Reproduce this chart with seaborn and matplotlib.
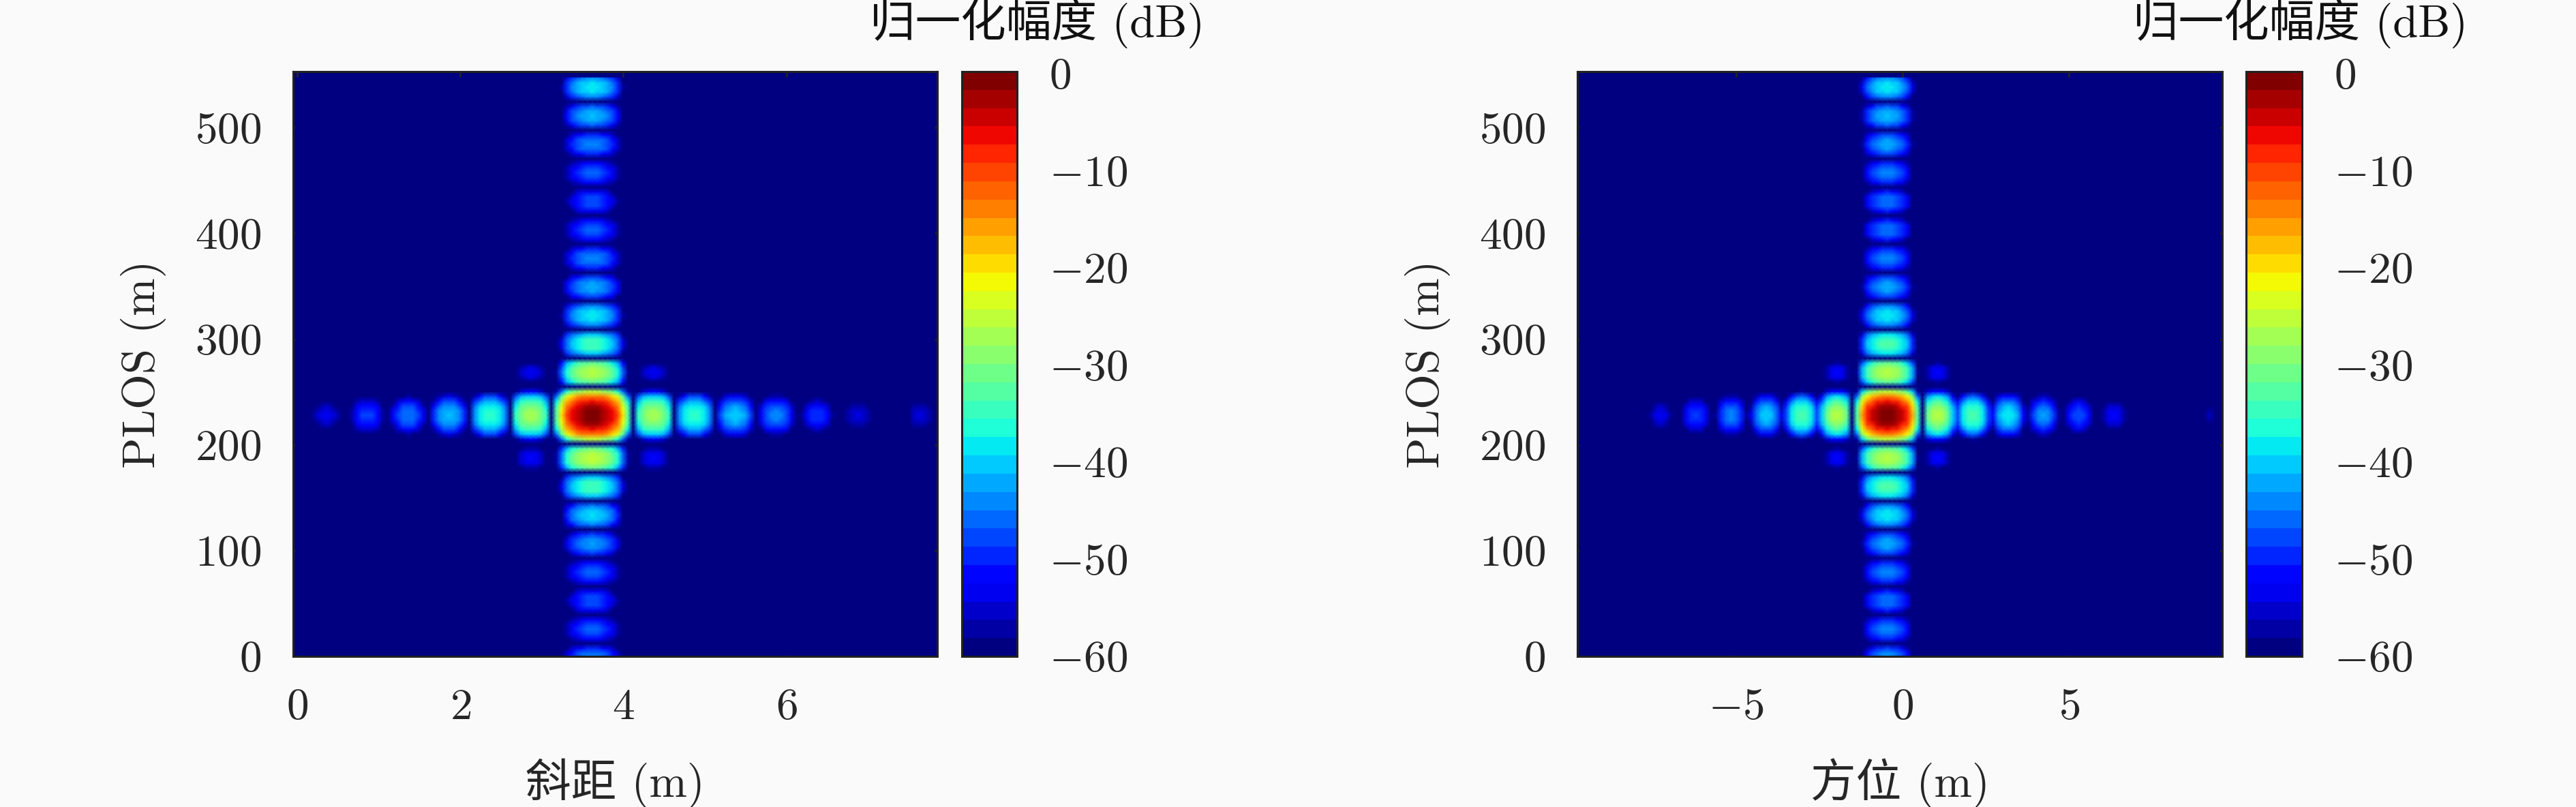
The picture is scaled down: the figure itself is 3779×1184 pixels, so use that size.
import numpy as np
import pandas as pd
import seaborn as sns
import matplotlib.pyplot as plt

# dB profiles, one value per image cell
range_db = [
    -90, -90, -90,
    -61.5, -56, -53.6, -53, -53.6, -56, -61.5, -90,
    -56.5, -51, -48.6, -48, -48.6, -51, -56.5, -90,
    -53.5, -48, -45.6, -45, -45.6, -48, -53.5, -90,
    -49.5, -44, -41.6, -41, -41.6, -44, -49.5, -90,
    -43.5, -38, -35.6, -35, -35.6, -38, -43.5, -90,
    -35.5, -30, -27.6, -27, -27.6, -30, -35.5, -90,
    -32, -20, -11, -6.5, -3.6, -1.8, -0.5, 0, -0.5, -1.8, -3.6, -6.5, -11, -20, -32, -90,
    -35.5, -30, -27.6, -27, -27.6, -30, -35.5, -90,
    -43.5, -38, -35.6, -35, -35.6, -38, -43.5, -90,
    -48.5, -43, -40.6, -40, -40.6, -43, -48.5, -90,
    -52.5, -47, -44.6, -44, -44.6, -47, -52.5, -90,
    -57.5, -52, -49.6, -49, -49.6, -52, -57.5, -90,
    -62.5, -57, -54.6, -54, -54.6, -57, -62.5, -90,
    -90, -90, -90, -90, -90,
    -60, -55, -54, -54.5, -57, -90,
]
plos_db_left = [
    -44, -45, -49.5, -90, -51.5, -47,
    -46, -47, -51.5, -90, -52.5, -48,
    -47, -48, -52.5, -90, -51.5, -47,
    -46, -47, -51.5, -90, -48.5, -44,
    -43, -44, -48.5, -90, -44.5, -40,
    -39, -40, -44.5, -90, -39.5, -35,
    -34, -35, -39.5, -90, -30.5, -26,
    -25, -26, -30.5, -90, -25, -13,
    -7, -3, -0.8, 0, -0.8, -3,
    -7, -13, -25, -90, -31.5, -27,
    -26, -27, -31.5, -90, -39.5, -35,
    -34, -35, -39.5, -90, -43.5, -39,
    -38, -39, -43.5, -90, -47.5, -43,
    -42, -43, -47.5, -90, -49.5, -45,
    -44, -45, -49.5, -90, -51.5, -47,
    -46, -47, -51.5, -90, -52.5, -48,
    -47, -48, -52.5, -90, -51.5, -47,
    -46, -47, -51.5, -90, -49.5, -45,
    -44, -45, -49.5, -90, -46.5, -42,
    -41, -42, -46.5, -90, -43.5, -39,
    -38, -39, -43.5,
]
azimuth_db = [
    -90, -90, -90, -90, -90, -90, -90, -90, -90, -90, -90, -90, -90,
    -67, -58, -54, -53, -54, -58, -67,
    -62, -53, -49, -48, -49, -53, -62,
    -58, -49, -45, -44, -45, -49, -58,
    -54, -45, -41, -40, -41, -45, -54,
    -47, -38, -34, -33, -34, -38, -47,
    -40, -31, -27, -26, -27, -31,
    -90, -32, -16, -8, -4.5, -2, -0.5, 0, -0.5, -2, -4.5, -8, -16, -32, -90,
    -31, -27, -26, -27, -31, -40,
    -47, -38, -34, -33, -34, -38, -47,
    -52, -43, -39, -38, -39, -43, -52,
    -57, -48, -44, -43, -44, -48, -57,
    -61, -52, -48, -47, -48, -52, -61,
    -66, -57, -53, -52, -53, -57, -66,
    -90, -90, -90, -90, -90, -90, -90, -90, -90, -90, -90, -90, -90, -90,
    -59, -56, -59, -90,
]
plos_db_right = [
    -43, -44, -48.5, -90, -49.5, -45,
    -44, -45, -49.5, -90, -50.5, -46,
    -45, -46, -50.5, -90, -49.5, -45,
    -44, -45, -49.5, -90, -47.5, -43,
    -42, -43, -47.5, -90, -43.5, -39,
    -38, -39, -43.5, -90, -38.5, -34,
    -33, -34, -38.5, -90, -31.5, -27,
    -26, -27, -31.5, -90, -25, -13,
    -7, -3, -0.8, 0, -0.8, -3,
    -7, -13, -25, -90, -31.5, -27,
    -26, -27, -31.5, -90, -38.5, -34,
    -33, -34, -38.5, -90, -43.5, -39,
    -38, -39, -43.5, -90, -47.5, -43,
    -42, -43, -47.5, -90, -49.5, -45,
    -44, -45, -49.5, -90, -50.5, -46,
    -45, -46, -50.5, -90, -50.5, -46,
    -45, -46, -50.5, -90, -49.5, -45,
    -44, -45, -49.5, -90, -47.5, -43,
    -42, -43, -47.5, -90, -46.5, -42,
    -41, -42, -46.5, -90, -43.5, -39,
    -38, -39, -43.5,
]

x_range_left = (-0.05, 7.85)
x_range_right = (-9.77, 9.6)
y_range = (0, 553)
x_ticks_left = [0, 2, 4, 6]
x_ticks_right = [-5, 0, 5]
y_ticks = [0, 100, 200, 300, 400, 500]
cbar_ticks = [0, -10, -20, -30, -40, -50, -60]

W, H = 3780, 1184
BG = '#fafafa'

sns.set_style('ticks')
plt.rcParams['font.family'] = ['cmr10', 'Noto Sans CJK SC']
plt.rcParams['mathtext.fontset'] = 'cm'
plt.rcParams['axes.formatter.use_mathtext'] = True
plt.rcParams['text.color'] = '#111111'

fig = plt.figure(figsize=(W / 100, H / 100), dpi=100, facecolor=BG)
jet32 = plt.get_cmap('jet', 32)


def px_axes(left, right, top, bottom):
    return fig.add_axes([left / W, 1 - bottom / H, (right - left) / W, (bottom - top) / H])


def tex(v):
    return f'${v}$'


def draw_panel(box, cbox, x_db, y_db, x_range, x_ticks, xlabel, cbar_x):
    ax = px_axes(*box)
    cax = px_axes(*cbox)
    ax.set_facecolor(jet32(0))
    # the response is separable: a range/azimuth cut plus a PLOS cut in dB
    grid = pd.DataFrame(np.add.outer(np.array(y_db), np.array(x_db)))
    sns.heatmap(grid, vmin=-60, vmax=0.2, cmap=jet32, ax=ax, cbar_ax=cax,
                xticklabels=False, yticklabels=False, shading='gouraud')
    nx, ny = grid.shape[1], grid.shape[0]
    # gouraud puts cell values on the grid nodes, so the cells are centred on integers
    ax.set_xlim(-0.5, nx - 0.5)
    ax.set_ylim(0.3, ny + 0.3)
    ax.set_xticks([(v - x_range[0]) / (x_range[1] - x_range[0]) * nx - 0.5 for v in x_ticks])
    ax.set_xticklabels([tex(v) for v in x_ticks])
    ax.set_yticks([(v - y_range[0]) / (y_range[1] - y_range[0]) * ny + 0.3 for v in y_ticks])
    ax.set_yticklabels([tex(v) for v in y_ticks], rotation=0)
    ax.tick_params(direction='in', length=9, width=2, color='#222222', top=True, right=True,
                   labelsize=47, pad=34)
    for s in ax.spines.values():
        s.set_visible(True)
        s.set_linewidth(2.2)
        s.set_color('#222222')
    ax.set_xlabel(xlabel, fontsize=48, labelpad=32)
    ax.set_ylabel('PLOS (m)', fontsize=48, labelpad=30)

    cb = ax.collections[0].colorbar
    cb.set_ticks(cbar_ticks)
    cb.set_ticklabels([tex(v) for v in cbar_ticks])
    cax.tick_params(direction='in', length=9, width=2, color='#222222', labelsize=47, pad=34)
    cb.outline.set_visible(True)
    cb.outline.set_linewidth(2.2)
    cb.outline.set_edgecolor('#222222')
    fig.text(cbar_x / W, 1 - 34 / H, '归一化幅度 (dB)', fontsize=48, ha='center', va='center')


draw_panel((430, 1375, 105, 963), (1411, 1492, 105, 963), range_db, plos_db_left,
           x_range_left, x_ticks_left, '斜距 (m)', 1522)
draw_panel((2314, 3260, 105, 963), (3295, 3377, 105, 963), azimuth_db, plos_db_right,
           x_range_right, x_ticks_right, '方位 (m)', 3375)

fig.savefig('out.png', dpi=100, facecolor=BG)
